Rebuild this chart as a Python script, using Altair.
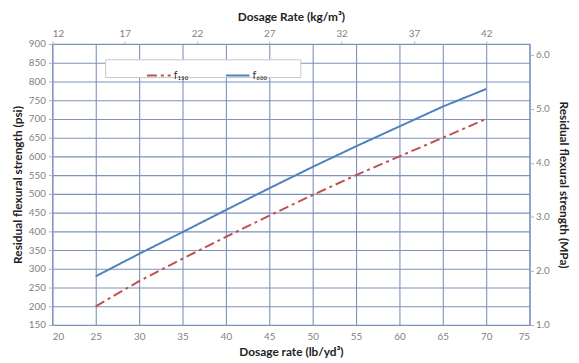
import altair as alt
import pandas as pd

# Data
dosage_lb = [25, 30, 35, 40, 45, 50, 55, 60, 65, 70]
f150 = [200, 267, 327, 385, 442, 497, 550, 600, 650, 700]
f600 = [280, 340, 398, 457, 515, 572, 627, 680, 733, 780]
series_names = ["f₁₅₀", "f₆₀₀"]
series_colors = ["#C0504D", "#4F81BD"]
series_dash = [[10, 4, 3, 4], [1, 0]]

x_ticks_lb = [20, 25, 30, 35, 40, 45, 50, 55, 60, 65, 70, 75]
y_ticks_psi = list(range(150, 901, 50))
x_ticks_kg = [12, 17, 22, 27, 32, 37, 42]
y_ticks_mpa = [1.0, 2.0, 3.0, 4.0, 5.0, 6.0]

rows = []
for d, a, b in zip(dosage_lb, f150, f600):
    rows.append({"dosage": d, "value": a, "series": series_names[0]})
    rows.append({"dosage": d, "value": b, "series": series_names[1]})
df = pd.DataFrame(rows)

FONT = "Lato"
GRID = "#7d91bb"
LABEL = "#7f7f7f"

leg = dict(title=None, orient="none", legendX=95, legendY=19,
           direction="horizontal", symbolType="stroke",
           symbolSize=576, symbolStrokeWidth=2,
           columnPadding=34, labelFontSize=11, labelFont=FONT,
           labelColor="#333", padding=0, labelOffset=2)

lines = alt.Chart(df).mark_line(strokeWidth=2).encode(
    x=alt.X("dosage:Q",
            scale=alt.Scale(domain=[20, 75], nice=False, zero=False),
            axis=alt.Axis(values=x_ticks_lb, title="Dosage rate (lb/yd³)", grid=True,
                          ticks=False, labelPadding=7, titlePadding=5, domain=False)),
    y=alt.Y("value:Q",
            scale=alt.Scale(domain=[150, 900], nice=False, zero=False),
            axis=alt.Axis(values=y_ticks_psi, title="Residual flexural strength (psi)", grid=True,
                          ticks=True, tickSize=4, labelPadding=3, titlePadding=4, domain=False)),
    color=alt.Color("series:N", scale=alt.Scale(domain=series_names, range=series_colors),
                    legend=alt.Legend(**leg)),
    strokeDash=alt.StrokeDash("series:N", scale=alt.Scale(domain=series_names, range=series_dash),
                              legend=alt.Legend(**leg)),
)

sec = pd.DataFrame({"kg": [x_ticks_kg[0], x_ticks_kg[-1]], "mpa": [y_ticks_mpa[0], y_ticks_mpa[-1]]})
secondary = alt.Chart(sec).mark_point(opacity=0).encode(
    x=alt.X("kg:Q", scale=alt.Scale(domain=[12, 45], nice=False, zero=False),
            axis=alt.Axis(orient="top", values=x_ticks_kg, title="Dosage Rate (kg/m³)", grid=False,
                          ticks=True, tickSize=3, labelPadding=3, titlePadding=5, domain=False)),
    y=alt.Y("mpa:Q", scale=alt.Scale(domain=[1.0, 6.2], nice=False, zero=False),
            axis=alt.Axis(orient="right", values=y_ticks_mpa, format=".1f",
                          title="Residual flexural strength (MPa)", grid=False,
                          ticks=True, tickSize=4, labelPadding=2, titlePadding=7, domain=False)),
)

legend_box = alt.Chart(pd.DataFrame({"k": [0]})).mark_rect(
    fill="white", stroke="#c8c8c8", strokeWidth=1
).encode(x=alt.value(54), x2=alt.value(252), y=alt.value(16), y2=alt.value(34))

chart = alt.layer(legend_box, lines, secondary).resolve_scale(
    x="independent", y="independent"
).properties(
    width=484, height=285,
    autosize=alt.AutoSizeParams(type="none"),
    padding={"left": 45, "top": 34, "right": 42, "bottom": 36},
    background="white",
).configure_view(
    stroke=GRID, strokeWidth=1.2
).configure_axis(
    gridColor=GRID, gridWidth=1.1, gridOpacity=1,
    tickColor="#b0b0b0",
    labelFont=FONT, labelFontSize=10, labelColor=LABEL,
    titleFont=FONT, titleFontSize=12, titleFontWeight="bold", titleColor="#222222",
)

chart.save("out.html", embed_options={"renderer": "svg", "actions": False})
